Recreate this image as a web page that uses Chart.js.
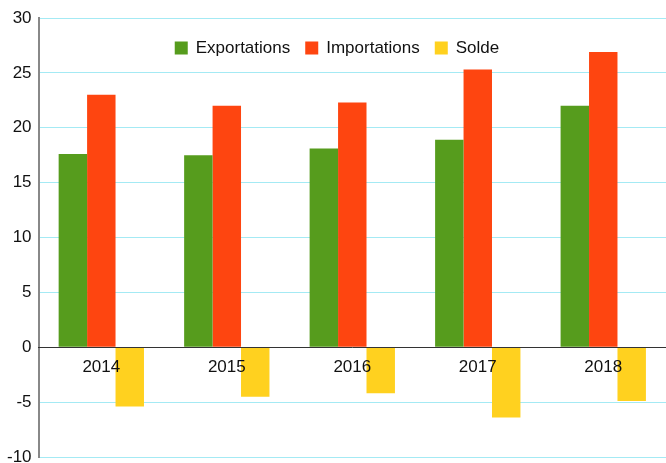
<!DOCTYPE html>
<html>
<head>
<meta charset="utf-8">
<script src="https://cdn.jsdelivr.net/npm/chart.js@4"></script>
<style>
  body { margin: 0; background: #fff; }
  canvas { display: block; }
</style>
</head>
<body>
<canvas id="chart" width="666" height="463"></canvas>
<script>
const annees = ['2014', '2015', '2016', '2017', '2018'];
const exportations = [17.6, 17.5, 18.1, 18.9, 22.0];
const importations = [23.0, 22.0, 22.3, 25.3, 26.9];
const solde = [-5.4, -4.5, -4.2, -6.4, -4.9];

const police = '"Liberation Sans", Arial, sans-serif';
Chart.defaults.font.family = police;
Chart.defaults.color = '#111';

// legende dessinee dans la zone du graphique, centree en haut
const legendeInterne = {
    id: 'legendeInterne',
    afterDraw(chart) {
        const ctx = chart.ctx;
        const box = 13, gapTexte = 8, gapItem = 15;
        ctx.save();
        ctx.font = '17px ' + police;
        ctx.textBaseline = 'middle';
        const items = chart.data.datasets.map(ds => ({
            texte: ds.label,
            couleur: ds.backgroundColor,
            largeur: ctx.measureText(ds.label).width
        }));
        const total = items.reduce((s, it) => s + box + gapTexte + it.largeur, 0) + gapItem * (items.length - 1);
        let x = chart.width / 2 + 4 - total / 2;
        const y = 48;
        items.forEach(it => {
            ctx.fillStyle = it.couleur;
            ctx.fillRect(x, y - box / 2, box, box);
            ctx.fillStyle = '#111';
            ctx.fillText(it.texte, x + box + gapTexte, y);
            x += box + gapTexte + it.largeur + gapItem;
        });
        ctx.restore();
    }
};

new Chart(document.getElementById('chart').getContext('2d'), {
    type: 'bar',
    data: {
        labels: annees,
        datasets: [
            { label: 'Exportations', data: exportations, backgroundColor: '#569c1d' },
            { label: 'Importations', data: importations, backgroundColor: '#fe4510' },
            { label: 'Solde', data: solde, backgroundColor: '#ffd11f' }
        ]
    },
    plugins: [legendeInterne],
    options: {
        responsive: false,
        animation: false,
        layout: { padding: { top: 18, right: 0, bottom: 6, left: 0 } },
        datasets: { bar: { categoryPercentage: 0.68, barPercentage: 1 } },
        plugins: {
            tooltip: { enabled: false },
            legend: { display: false }
        },
        scales: {
            x: {
                position: { y: 0 },
                grid: { display: false, drawTicks: false },
                border: { color: '#333', width: 1, z: 1 },
                ticks: { font: { size: 17 }, padding: 10, z: 1 },
                afterFit(scale) { scale.height = 0; }
            },
            y: {
                min: -10,
                max: 30,
                ticks: { stepSize: 5, font: { size: 17 }, padding: 7 },
                grid: { color: '#a4eaf4', drawTicks: false, lineWidth: 1 },
                border: { color: '#888', width: 2 },
                afterFit(scale) { scale.paddingTop = 0; scale.paddingBottom = 0; }
            }
        }
    }
});
</script>
</body>
</html>
